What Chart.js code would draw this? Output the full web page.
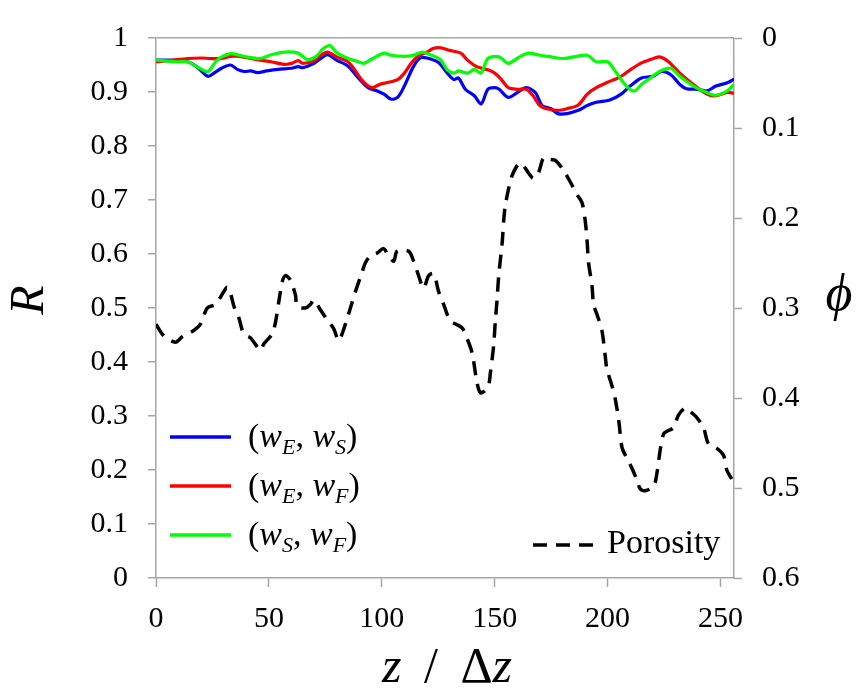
<!DOCTYPE html>
<html>
<head>
<meta charset="utf-8">
<script src="https://cdn.jsdelivr.net/npm/chart.js@4"></script>
<style>
  html, body { margin: 0; padding: 0; background: #fff; }
  canvas { display: block; }
</style>
</head>
<body>
<canvas id="chart" width="858" height="691"></canvas>
<script>
// 相關係數 R (左軸) 與孔隙率 phi (右軸, 反向)
const zTicks = [0, 50, 100, 150, 200, 250];
const rTicks = [0, 0.1, 0.2, 0.3, 0.4, 0.5, 0.6, 0.7, 0.8, 0.9, 1];
const phiTicks = [0, 0.1, 0.2, 0.3, 0.4, 0.5, 0.6];

// (wE, wS)
const zWeWs = [0, 6, 14, 18, 23, 26, 29, 33, 36, 39, 42, 45, 49, 54, 60, 63, 65, 70, 73, 76, 80, 85, 89, 94, 98, 101, 104, 107, 110, 114, 117, 120, 125, 129, 132, 134, 137, 141, 144, 147, 150, 152, 156, 160, 164, 168, 171, 175, 178, 182, 187, 191, 195, 201, 206, 210, 215, 220, 224, 228, 232, 235, 240, 244, 248, 253, 256];
const rWeWs = [0.959, 0.959, 0.956, 0.947, 0.929, 0.936, 0.944, 0.950, 0.942, 0.938, 0.939, 0.936, 0.939, 0.942, 0.944, 0.947, 0.945, 0.953, 0.962, 0.969, 0.959, 0.948, 0.929, 0.908, 0.902, 0.896, 0.887, 0.890, 0.911, 0.947, 0.963, 0.963, 0.955, 0.935, 0.923, 0.926, 0.905, 0.893, 0.878, 0.905, 0.908, 0.905, 0.890, 0.899, 0.908, 0.899, 0.875, 0.869, 0.860, 0.860, 0.866, 0.875, 0.881, 0.885, 0.896, 0.911, 0.926, 0.929, 0.938, 0.932, 0.914, 0.906, 0.905, 0.902, 0.911, 0.917, 0.924];

// (wE, wF)
const zWeWf = [0, 6, 14, 20, 24, 29, 33, 37, 42, 46, 51, 57, 60, 63, 65, 70, 73, 76, 80, 85, 88, 91, 94, 96, 99, 102, 107, 110, 113, 116, 120, 123, 126, 130, 135, 138, 142, 147, 150, 153, 156, 160, 164, 167, 170, 173, 178, 182, 187, 191, 195, 200, 203, 206, 210, 215, 219, 223, 227, 232, 238, 244, 248, 253, 256];
const rWeWf = [0.956, 0.958, 0.962, 0.963, 0.962, 0.962, 0.966, 0.966, 0.962, 0.959, 0.956, 0.951, 0.953, 0.958, 0.953, 0.958, 0.968, 0.974, 0.965, 0.956, 0.941, 0.923, 0.911, 0.908, 0.914, 0.917, 0.923, 0.935, 0.953, 0.966, 0.974, 0.981, 0.982, 0.977, 0.972, 0.959, 0.947, 0.941, 0.935, 0.923, 0.908, 0.905, 0.905, 0.893, 0.875, 0.869, 0.866, 0.869, 0.876, 0.896, 0.908, 0.918, 0.923, 0.929, 0.941, 0.954, 0.960, 0.965, 0.956, 0.935, 0.914, 0.896, 0.893, 0.899, 0.898];

// (wS, wF)
const zWsWf = [0, 9, 14, 18, 23, 27, 33, 37, 40, 46, 51, 57, 63, 67, 71, 74, 77, 80, 85, 89, 92, 96, 101, 104, 110, 114, 118, 122, 126, 129, 132, 134, 138, 141, 144, 147, 152, 156, 161, 165, 170, 175, 180, 185, 191, 195, 200, 203, 206, 209, 212, 215, 219, 223, 228, 232, 238, 244, 248, 253, 256];
const rWsWf = [0.959, 0.956, 0.956, 0.947, 0.938, 0.959, 0.971, 0.968, 0.965, 0.962, 0.969, 0.974, 0.972, 0.960, 0.966, 0.980, 0.986, 0.973, 0.962, 0.957, 0.953, 0.962, 0.972, 0.968, 0.966, 0.968, 0.974, 0.968, 0.960, 0.941, 0.935, 0.939, 0.935, 0.942, 0.935, 0.962, 0.965, 0.953, 0.965, 0.972, 0.968, 0.965, 0.962, 0.965, 0.968, 0.956, 0.956, 0.941, 0.923, 0.908, 0.902, 0.914, 0.926, 0.938, 0.944, 0.929, 0.911, 0.899, 0.894, 0.902, 0.914];

// Porosity
const zPor = [0, 3.5, 8.6, 11.6, 16.7, 19.7, 22.7, 26.3, 30, 31.5, 32.9, 34.5, 36.7, 38.9, 41.8, 46.3, 47.7, 51.4, 52.9, 54.4, 55.9, 57.3, 59.5, 61.8, 62.5, 66.2, 68.4, 69.9, 72.8, 75.8, 78.7, 80.9, 83.9, 86.1, 88.3, 91.3, 92.7, 94.9, 97.9, 100.8, 103, 105.3, 106.8, 111.9, 114.1, 116.3, 118.5, 120.8, 123, 125.2, 127.4, 130.4, 135.5, 137.8, 140, 142.2, 143.6, 145.5, 147.3, 148.1, 149.5, 150.3, 151, 151.8, 153.3, 154, 154.6, 156.2, 157.7, 159.9, 161.4, 162.8, 165, 167.2, 169.5, 171.7, 174.6, 176.9, 180.5, 183.5, 186.5, 188.7, 190.1, 190.9, 191.6, 193.1, 193.8, 195.3, 197.5, 199, 199.7, 201.9, 203.4, 205, 206.4, 208.6, 210.8, 213, 214.5, 216.7, 220.4, 221.9, 223.3, 224.8, 226.3, 229.2, 231.4, 234.4, 236.6, 239.6, 242.5, 244.7, 248.4, 251.4, 252.8, 255];
const phiPor = [0.318, 0.331, 0.338, 0.332, 0.325, 0.318, 0.300, 0.296, 0.282, 0.277, 0.283, 0.298, 0.311, 0.329, 0.333, 0.347, 0.340, 0.329, 0.316, 0.293, 0.271, 0.264, 0.269, 0.286, 0.298, 0.300, 0.296, 0.291, 0.302, 0.313, 0.323, 0.336, 0.318, 0.300, 0.282, 0.260, 0.250, 0.242, 0.239, 0.234, 0.242, 0.248, 0.237, 0.237, 0.248, 0.264, 0.278, 0.264, 0.262, 0.282, 0.296, 0.314, 0.322, 0.334, 0.350, 0.383, 0.394, 0.392, 0.386, 0.372, 0.343, 0.314, 0.293, 0.264, 0.228, 0.203, 0.188, 0.167, 0.153, 0.142, 0.139, 0.142, 0.150, 0.156, 0.149, 0.133, 0.135, 0.136, 0.147, 0.160, 0.174, 0.183, 0.203, 0.224, 0.250, 0.275, 0.296, 0.307, 0.325, 0.354, 0.368, 0.386, 0.401, 0.426, 0.455, 0.467, 0.478, 0.491, 0.501, 0.503, 0.498, 0.483, 0.458, 0.440, 0.437, 0.433, 0.419, 0.411, 0.415, 0.422, 0.433, 0.451, 0.456, 0.464, 0.480, 0.490];

const lineColors = ['#0000ff', '#ff0000', '#00ff00'];
const legendSubs = [['E', 'S'], ['E', 'F'], ['S', 'F']];

const serif = "'Liberation Serif', 'Times New Roman', serif";
const axisGray = '#a6a6a6';

function pts(xs, ys) {
  return xs.map((x, i) => ({ x, y: ys[i] }));
}

// 畫一段文字, 回傳下一段起點
function seg(ctx, text, font, x, y) {
  ctx.font = font;
  ctx.fillText(text, x, y);
  return x + ctx.measureText(text).width;
}

function drawPair(ctx, x, y, a, b) {
  const up = '34px ' + serif, it = 'italic 34px ' + serif, sub = 'italic 22px ' + serif;
  x = seg(ctx, '(', up, x, y);
  x = seg(ctx, 'w', it, x, y);
  x = seg(ctx, a, sub, x, y + 7);
  x = seg(ctx, ', ', up, x, y);
  x = seg(ctx, 'w', it, x, y);
  x = seg(ctx, b, sub, x, y + 7);
  seg(ctx, ')', up, x, y);
}

// 圖例與軸標題
const decorations = {
  id: 'decorations',
  afterDraw(chart) {
    const ctx = chart.ctx;
    ctx.save();
    ctx.fillStyle = '#000';
    ctx.textBaseline = 'alphabetic';
    ctx.textAlign = 'left';

    // 左下圖例
    legendSubs.forEach((s, i) => {
      const y = 437 + i * 49;
      ctx.strokeStyle = lineColors[i];
      ctx.lineWidth = 3.5;
      ctx.setLineDash([]);
      ctx.beginPath();
      ctx.moveTo(170, y);
      ctx.lineTo(231, y);
      ctx.stroke();
      drawPair(ctx, 248, y + 10, s[0], s[1]);
    });

    // Porosity 圖例
    ctx.strokeStyle = '#000';
    ctx.lineWidth = 3.5;
    ctx.setLineDash([14, 9]);
    ctx.beginPath();
    ctx.moveTo(533, 545);
    ctx.lineTo(598, 545);
    ctx.stroke();
    ctx.setLineDash([]);
    seg(ctx, 'Porosity', '34px ' + serif, 607, 553);

    // R 軸標題
    ctx.save();
    ctx.translate(43, 300);
    ctx.rotate(-Math.PI / 2);
    ctx.textAlign = 'center';
    ctx.font = 'italic 48px ' + serif;
    ctx.fillText('R', 0, 0);
    ctx.restore();

    // phi 軸標題
    ctx.textAlign = 'center';
    ctx.font = 'italic 52px ' + serif;
    ctx.fillText('\u03d5', 839, 310);

    // z / Δz
    ctx.textAlign = 'left';
    const parts = [['z', 'italic 50px '], [' \u2009/\u2009 \u0394', '50px '], ['z', 'italic 50px ']];
    let w = 0;
    parts.forEach(p => { ctx.font = p[1] + serif; w += ctx.measureText(p[0]).width; });
    let x = 447 - w / 2;
    parts.forEach(p => { x = seg(ctx, p[0], p[1] + serif, x, 682); });
    ctx.restore();
  }
};

const tickFont = { family: serif, size: 30 };

new Chart(document.getElementById('chart'), {
  type: 'line',
  data: {
    datasets: [
      { label: '(wE, wS)', data: pts(zWeWs, rWeWs), borderColor: lineColors[0], yAxisID: 'y', order: 2 },
      { label: '(wE, wF)', data: pts(zWeWf, rWeWf), borderColor: lineColors[1], yAxisID: 'y', order: 1 },
      { label: '(wS, wF)', data: pts(zWsWf, rWsWf), borderColor: lineColors[2], yAxisID: 'y', order: 0 },
      { label: 'Porosity', data: pts(zPor, phiPor), borderColor: '#000', yAxisID: 'y2', order: 3,
        borderDash: [14, 9], borderWidth: 3.5 }
    ]
  },
  options: {
    responsive: false,
    animation: false,
    layout: { padding: { top: 22, left: 0, right: 0, bottom: 0 } },
    elements: {
      point: { radius: 0 },
      line: { borderWidth: 3.2, tension: 0.3, fill: false }
    },
    plugins: { legend: { display: false }, tooltip: { enabled: false } },
    scales: {
      x: {
        type: 'linear', min: 0, max: 256,
        afterBuildTicks: s => { s.ticks = zTicks.map(v => ({ value: v })); },
        afterFit: s => { s.height = 113; },
        ticks: { font: tickFont, color: '#000', padding: 14, maxRotation: 0, callback: v => String(v) },
        grid: { drawOnChartArea: false, tickLength: 9, tickColor: axisGray, tickWidth: 1.5 },
        border: { color: axisGray, width: 1.5 }
      },
      y: {
        position: 'left', min: 0, max: 1,
        afterBuildTicks: s => { s.ticks = rTicks.map(v => ({ value: v })); },
        afterFit: s => { s.width = 156; },
        ticks: { font: tickFont, color: '#000', padding: 20, callback: v => String(v) },
        grid: {
          color: c => (c.tick && c.tick.value === 1 ? axisGray : 'transparent'),
          lineWidth: 1.5, tickLength: 8, tickColor: axisGray, tickWidth: 1.5
        },
        border: { color: axisGray, width: 1.5 }
      },
      y2: {
        position: 'right', min: 0, max: 0.6, reverse: true,
        afterBuildTicks: s => { s.ticks = phiTicks.map(v => ({ value: v })); },
        afterFit: s => { s.width = 124; },
        ticks: { font: tickFont, color: '#000', padding: 20, callback: v => String(v) },
        grid: { drawOnChartArea: false, tickLength: 8, tickColor: axisGray, tickWidth: 1.5 },
        border: { color: axisGray, width: 1.5 }
      }
    }
  },
  plugins: [decorations]
});
</script>
</body>
</html>
